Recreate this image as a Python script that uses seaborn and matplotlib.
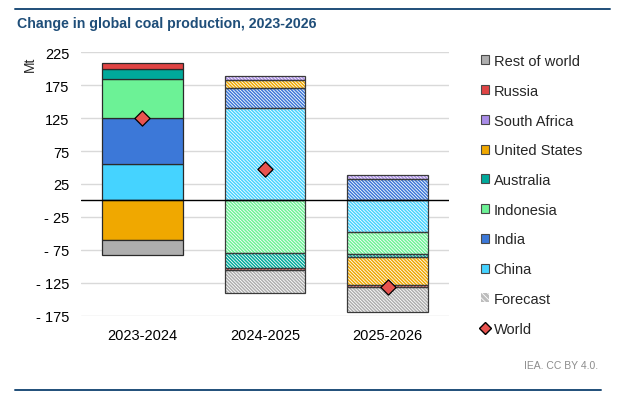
import matplotlib
matplotlib.use("Agg")
import matplotlib.pyplot as plt
from matplotlib.patches import Patch
from matplotlib.lines import Line2D
from matplotlib.ticker import FuncFormatter
import seaborn as sns
import numpy as np

# values (Mt)
periods = ["2023-2024", "2024-2025", "2025-2026"]
china = [55, 140, -48]
india = [70, 31, 33]
indonesia = [60, -80, -33]
australia = [15, -23, -5]
united_states = [-60, 12, -43]
south_africa = [0, 6, 5]
russia = [8, -2, -3]
rest_of_world = [-23, -35, -38]
world = [125, 48, -132]
forecast = [False, True, True]

series_names = ["China", "India", "Indonesia", "Australia", "United States",
                "South Africa", "Russia", "Rest of world"]
series_values = [china, india, indonesia, australia, united_states,
                 south_africa, russia, rest_of_world]
series_colors = ["#45D3FF", "#3C78D8", "#6CF296", "#00A99B", "#F0A800",
                 "#A98CE8", "#E04444", "#AEAEAE"]

sns.set_theme(style="white")
plt.rcParams["font.family"] = ["Liberation Sans", "DejaVu Sans"]
plt.rcParams["hatch.linewidth"] = 0.6

fig = plt.figure(figsize=(6.17, 4.06), dpi=100)
ax = fig.add_axes([81 / 617, 1 - 316.7 / 406, 368 / 617, 263.4 / 406])

x = np.arange(len(periods))
width = 0.66
pos_base = np.zeros(len(periods))
neg_base = np.zeros(len(periods))
for name, vals, col in zip(series_names, series_values, series_colors):
    vals = np.array(vals, dtype=float)
    bottoms = np.where(vals >= 0, pos_base, neg_base)
    for i in range(len(periods)):
        if vals[i] == 0:
            continue
        if forecast[i]:
            ax.bar(x[i], vals[i], width, bottom=bottoms[i], color=col,
                   edgecolor="white", linewidth=0, hatch="\\" * 10, zorder=2)
            ax.bar(x[i], vals[i], width, bottom=bottoms[i], facecolor="none",
                   edgecolor="#3a3a3a", linewidth=0.9, zorder=3)
        else:
            ax.bar(x[i], vals[i], width, bottom=bottoms[i], color=col,
                   edgecolor="#2a2a2a", linewidth=0.9, zorder=3)
    pos_base = pos_base + np.where(vals > 0, vals, 0)
    neg_base = neg_base + np.where(vals < 0, vals, 0)

ax.axhline(0, color="black", lw=1.0, zorder=4)
sns.scatterplot(x=x, y=world, marker="D", s=60, color="#E8534F",
                edgecolor="black", linewidth=0.9, zorder=5, ax=ax, legend=False)

ax.set_xlim(-0.5, 2.5)
ax.set_ylim(-175, 225)
ax.set_yticks(np.arange(-175, 226, 50))
ax.yaxis.set_major_formatter(FuncFormatter(lambda v, p: f"- {abs(int(v))}" if v < 0 else f"{int(v)}"))
ax.set_xticks(x)
ax.set_xticklabels(periods)
ax.tick_params(axis="y", length=0, pad=8.5, labelsize=10.5, labelcolor="black")
ax.tick_params(axis="x", length=0, pad=9, labelsize=10.5, labelcolor="black")
ax.yaxis.grid(True, color="#D9D9D9", lw=1.0, zorder=0)
ax.set_axisbelow(True)
for s in ax.spines.values():
    s.set_visible(False)

fig.text(30 / 617, 1 - 64 / 406, "Mt", rotation=90, ha="center", va="center", fontsize=10)
fig.text(17 / 617, 1 - 28 / 406, "Change in global coal production, 2023-2026",
         fontsize=10.2, fontweight="bold", color="#1F4E79", ha="left", va="baseline")
fig.text(598 / 617, 1 - 366 / 406, "IEA. CC BY 4.0.", fontsize=7.5, color="#8C8C8C",
         ha="right", va="center")
fig.add_artist(Line2D([15 / 617, 610 / 617], [1 - 10 / 406] * 2, color="#1F4E79", lw=1.4))
fig.add_artist(Line2D([15 / 617, 601 / 617], [1 - 391 / 406] * 2, color="#1F4E79", lw=1.4))

handles = [Patch(facecolor=c, edgecolor="#4a4a4a", lw=0.8) for c in series_colors[::-1]]
handles.append(Patch(facecolor="#BDBDBD", edgecolor="white", lw=0, hatch="\\" * 6))
handles.append(Line2D([], [], marker="D", ls="none", color="#E8534F",
                      markeredgecolor="black", markersize=6))
labels = series_names[::-1] + ["Forecast", "World"]
fig.legend(handles, labels, loc="upper left", bbox_to_anchor=(481 / 617, 1 - 55 / 406),
           frameon=False, fontsize=10.5, handlelength=0.57, handleheight=0.57,
           handletextpad=0.3, labelspacing=1.08, borderpad=0, borderaxespad=0)

fig.savefig("out.png", dpi=100, facecolor="white")
